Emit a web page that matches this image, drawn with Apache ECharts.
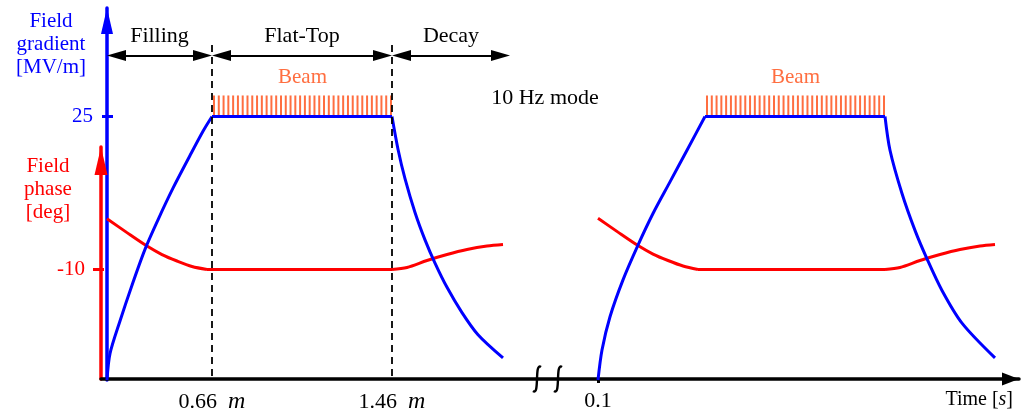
<!DOCTYPE html>
<html>
<head>
<meta charset="utf-8">
<script src="https://cdn.jsdelivr.net/npm/echarts@6/dist/echarts.min.js"></script>
<style>
  html, body { margin: 0; padding: 0; background: #ffffff; }
  #chart { width: 1021px; height: 414px; }
</style>
</head>
<body>
<div id="chart"></div>
<script>
// Schematic time runs in drawing units (the axis is not to scale); [time, value] pairs.
// Field gradient [MV/m], first RF pulse
const gradRise1  = [[0, 0], [0.3, 2.5], [1.3, 5.6], [2.5, 9.0], [3.8, 12.4], [5.1, 15.2], [6.6, 18.2], [8.3, 21.3], [9.6, 23.6], [10.5, 25]];
const gradFlat1  = [[10.5, 25], [28.5, 25]];
const gradDecay1 = [[28.5, 25], [29.1, 21.9], [29.8, 19.1], [30.8, 15.9], [31.8, 13.3], [32.8, 11.1], [34.0, 8.8], [35.5, 6.4], [37.1, 4.3], [39.6, 2.1]];
// Field gradient [MV/m], next pulse (0.1 s later)
const gradRise2  = [[49.1, 0], [49.5, 2.85], [50.3, 6.0], [51.6, 9.5], [53.1, 12.8], [54.6, 15.8], [56.3, 18.8], [58.0, 21.8], [59.8, 25]];
const gradFlat2  = [[59.8, 25], [77.8, 25]];
const gradDecay2 = [[77.8, 25], [78.3, 21.8], [79.5, 17.7], [80.8, 14.2], [82.0, 11.5], [83.5, 8.5], [85.5, 5.4], [88.8, 2.1]];

// Field phase [deg]
const phaseFall1 = [[0, 0.2], [2.0, -2.6], [4.0, -5.3], [5.5, -7.0], [7.0, -8.3], [8.5, -9.4], [10.0, -10]];
const phaseFlat1 = [[10.0, -10], [28.5, -10]];
const phaseRise1 = [[28.5, -10], [30.0, -9.6], [32.0, -8.2], [34.0, -7.0], [36.0, -6.0], [38.0, -5.3], [39.6, -5.0]];
const phaseFall2 = [[49.1, 0.3], [51.1, -2.5], [53.1, -5.2], [54.6, -6.9], [56.1, -8.2], [57.6, -9.3], [59.1, -10]];
const phaseFlat2 = [[59.1, -10], [77.8, -10]];
const phaseRise2 = [[77.8, -10], [79.3, -9.6], [81.3, -8.2], [83.3, -7.0], [85.3, -6.0], [87.3, -5.3], [88.8, -5.0]];

// Time axis ticks
const timeTicks  = [10.5, 28.5, 49.1];
const timeLabels = ['0.66  {i|m}', '1.46  {i|m}', '0.1'];

// Pulse phases: name, start, end
const phaseNames  = ['Filling', 'Flat-Top', 'Decay'];
const phaseStarts = [0, 10.5, 28.5];
const phaseEnds   = [10.5, 28.5, 40.3];
const phaseArrowLevel = 30.8;
const dashTop = 31.8;

// Beam windows: [start, end, bottom, top] in time / gradient units
const beamWindows = [[10.7, 28.4, 25, 27.0], [60.0, 77.7, 25, 27.0]];
const beamLabel = 'Beam';

// Axis break position on the time axis
const breakMarks = [[43.0], [45.1]];

const BLUE = '#0000ff', RED = '#ff0000', BEAM = '#ff6e40';
const FONT = '"Liberation Serif", "DejaVu Serif", serif';
// arrowheads are centred on the line ends, so pull the ends in by half a head
const HEAD_LEN = 19, HEAD_INSET = HEAD_LEN / 2 / 10;

function curve(data, color, idx, smooth, extra) {
  return Object.assign({
    type: 'line', data: data, xAxisIndex: idx, yAxisIndex: idx,
    symbol: 'none', smooth: smooth, silent: true,
    lineStyle: { color: color, width: 3 }, z: idx === 0 ? 4 : 3
  }, extra || {});
}

const arrowLines = phaseNames.map((n, i) => [
  { coord: [phaseStarts[i] + HEAD_INSET, phaseArrowLevel], name: n },
  { coord: [phaseEnds[i] - HEAD_INSET, phaseArrowLevel] }
]);
const dashLines = [timeTicks[0], timeTicks[1]].map(t => [
  { coord: [t, dashTop] }, { coord: [t, 0] }
]);

const chart = echarts.init(document.getElementById('chart'), null, { renderer: 'canvas' });

const option = {
  animation: false,
  backgroundColor: '#ffffff',
  textStyle: { fontFamily: FONT },
  grid: [
    { left: 107, right: 2, top: 8, bottom: 34 },
    { left: 101, right: 2, top: 147, bottom: 34 }
  ],
  xAxis: [
    { gridIndex: 0, type: 'value', min: 0, max: 91.2, show: false },
    {
      gridIndex: 1, type: 'value', min: -0.6, max: 91.2,
      splitLine: { show: false },
      axisLine: { onZero: false, lineStyle: { color: '#000', width: 3.5 }, symbol: ['none', 'triangle'], symbolSize: [13, 17], symbolOffset: [0, -8.5] },
      axisTick: { customValues: [timeTicks[2]], length: 4, lineStyle: { color: '#000', width: 3 } },
      axisLabel: {
        customValues: timeTicks, margin: 11, color: '#000', fontFamily: FONT, fontSize: 22,
        formatter: v => timeLabels[timeTicks.indexOf(v)] || '',
        rich: { i: { fontStyle: 'italic', fontFamily: FONT, fontSize: 24, color: '#000' } }
      },
      name: 'Time [{i|s}]', nameLocation: 'end', nameGap: -6,
      nameTextStyle: {
        align: 'right', verticalAlign: 'top', padding: [11, 0, 0, 0], color: '#000', fontFamily: FONT, fontSize: 20,
        rich: { i: { fontStyle: 'italic', fontFamily: FONT, fontSize: 20, color: '#000' } }
      }
    }
  ],
  yAxis: [
    {
      gridIndex: 0, type: 'value', position: 'left', min: 0, max: 35.3, splitLine: { show: false },
      axisLine: { show: true, onZero: false, lineStyle: { color: BLUE, width: 3.5 }, symbol: ['none', 'triangle'], symbolSize: [12, 26], symbolOffset: [0, -13] },
      axisTick: { customValues: [25], length: 5, lineStyle: { color: BLUE, width: 3 } },
      axisLabel: { customValues: [25], margin: 14, color: BLUE, fontFamily: FONT, fontSize: 21 }
    },
    {
      gridIndex: 1, type: 'value', position: 'left', min: -32, max: 14.6, splitLine: { show: false },
      axisLine: { show: true, onZero: false, lineStyle: { color: RED, width: 3.5 }, symbol: ['none', 'triangle'], symbolSize: [13, 28], symbolOffset: [0, -14] },
      axisTick: { customValues: [-10], length: 8, lineStyle: { color: RED, width: 3 } },
      axisLabel: { customValues: [-10], margin: 16, color: RED, fontFamily: FONT, fontSize: 21 }
    },
    // inner halves of the tick marks, so each tick crosses its axis
    {
      gridIndex: 0, type: 'value', position: 'left', offset: 0, min: 0, max: 35.3, splitLine: { show: false },
      axisLine: { show: false, onZero: false }, axisLabel: { show: false },
      axisTick: { customValues: [25], inside: true, length: 6, lineStyle: { color: BLUE, width: 3 } }
    },
    {
      gridIndex: 1, type: 'value', position: 'left', offset: 0, min: -32, max: 14.6, splitLine: { show: false },
      axisLine: { show: false, onZero: false }, axisLabel: { show: false },
      axisTick: { customValues: [-10], inside: true, length: 3, lineStyle: { color: RED, width: 3 } }
    }
  ],
  series: [
    curve(phaseFall1, RED, 1, 0.3),
    curve(phaseFlat1, RED, 1, false),
    curve(phaseRise1, RED, 1, 0.3),
    curve(phaseFall2, RED, 1, 0.3),
    curve(phaseFlat2, RED, 1, false),
    curve(phaseRise2, RED, 1, 0.3),
    curve(gradRise1, BLUE, 0, 0.3, {
      markLine: {
        silent: true, symbol: ['triangle', 'triangle'], symbolSize: [11, HEAD_LEN],
        lineStyle: { color: '#000', width: 1.8, type: 'solid' },
        label: { show: true, position: 'middle', distance: 8, formatter: p => p.name, color: '#000', fontFamily: FONT, fontSize: 22 },
        emphasis: { disabled: true },
        data: arrowLines
      }
    }),
    curve(gradFlat1, BLUE, 0, false, {
      markLine: {
        silent: true, symbol: ['none', 'none'],
        lineStyle: { color: '#000', width: 1.8, type: [7, 5] },
        label: { show: false },
        emphasis: { disabled: true },
        data: dashLines
      }
    }),
    curve(gradDecay1, BLUE, 0, 0.3),
    curve(gradRise2, BLUE, 0, 0.3),
    curve(gradFlat2, BLUE, 0, false),
    curve(gradDecay2, BLUE, 0, 0.3),
    {
      // beam pulse trains on the flat-top
      type: 'custom', xAxisIndex: 0, yAxisIndex: 0, silent: true, z: 2,
      data: beamWindows,
      encode: { x: [0, 1], y: [2, 3] },
      renderItem: function (params, api) {
        const tl = api.coord([api.value(0), api.value(3)]);
        const br = api.coord([api.value(1), api.value(2)]);
        const n = Math.round((br[0] - tl[0]) / 4.75);
        const children = [];
        for (let i = 0; i <= n; i++) {
          const x = tl[0] + (br[0] - tl[0]) * i / n;
          children.push({ type: 'line', shape: { x1: x, y1: tl[1], x2: x, y2: br[1] - 1 }, style: { stroke: BEAM, lineWidth: 2 } });
        }
        children.push({
          type: 'text',
          style: { text: beamLabel, x: (tl[0] + br[0]) / 2, y: tl[1] - 7, textAlign: 'center', textVerticalAlign: 'bottom', fill: BEAM, font: '21px ' + FONT }
        });
        return { type: 'group', children: children };
      }
    },
    {
      // break marks across the time axis
      type: 'custom', xAxisIndex: 1, yAxisIndex: 1, silent: true, z: 6,
      data: breakMarks,
      encode: { x: 0 },
      renderItem: function (params, api) {
        const p = api.coord([api.value(0), -32]);
        const x = p[0], y = p[1];
        return {
          type: 'path',
          shape: { pathData: `M ${x + 4} ${y - 12} C ${x - 3} ${y - 17}, ${x + 3} ${y + 17}, ${x - 4} ${y + 12}` },
          style: { stroke: '#000', lineWidth: 2.4, fill: 'none' }
        };
      }
    }
  ],
  graphic: [
    { type: 'text', style: { text: 'Field\ngradient\n[MV/m]', x: 51, y: 10, textAlign: 'center', textVerticalAlign: 'top', lineHeight: 23, fill: BLUE, font: '21px ' + FONT } },
    { type: 'text', style: { text: 'Field\nphase\n[deg]', x: 48, y: 155, textAlign: 'center', textVerticalAlign: 'top', lineHeight: 23, fill: RED, font: '21px ' + FONT } },
    { type: 'text', style: { text: '10 Hz mode', x: 545, y: 98, textAlign: 'center', textVerticalAlign: 'middle', fill: '#000', font: '22px ' + FONT } }
  ]
};

chart.setOption(option);
</script>
</body>
</html>
